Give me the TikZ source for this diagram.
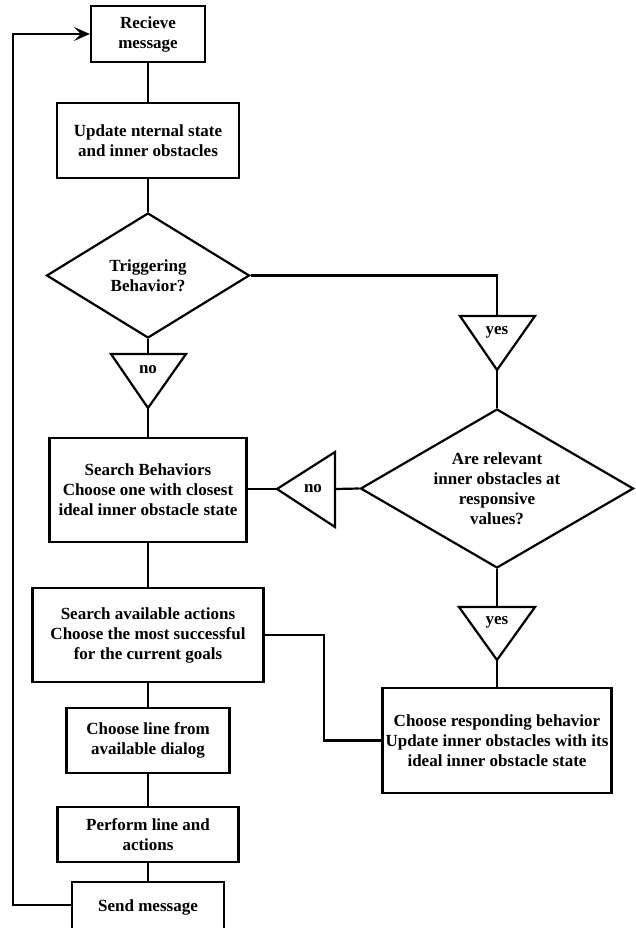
\documentclass[tikz,border=0pt]{standalone}
\usepackage{fontspec}
\setmainfont{Liberation Serif}
\usetikzlibrary{shapes.geometric,arrows.meta}
\tikzset{
  box/.style={draw, line width=2.2pt, rectangle, inner sep=0pt, align=center,
    font=\bfseries\fontsize{17}{20}\selectfont},
  dia/.style={draw, line width=2.2pt, diamond, inner sep=0pt, align=center,
    font=\bfseries\fontsize{17}{20}\selectfont},
  lbl/.style={inner sep=0pt, font=\bfseries\fontsize{17}{20}\selectfont},
  tri/.style={draw, line width=2.2pt, line join=miter},
  conn/.style={draw, line width=2.2pt},
}
\begin{document}
\begin{tikzpicture}[x=1pt,y=-1pt]
\useasboundingbox[fill=white] (0,0) rectangle (636,928);
% boxes
\node[box, minimum width=114, minimum height=56] (recv) at (148,34) {Recieve\\message};
\node[box, minimum width=182, minimum height=75] (upd) at (148,140.5) {Update nternal state\\and inner obstacles};
\node[dia, aspect=1.62, minimum width=203, minimum height=125] (trig) at (148,275.5) {Triggering\\Behavior?};
\node[dia, aspect=1.72, minimum width=273, minimum height=159] (rel) at (497,488.5) {Are relevant\\inner obstacles at\\responsive\\values?};
\node[box, minimum width=197, minimum height=104] (sb) at (148,490) {Search Behaviors\\Choose one with closest\\ideal inner obstacle state};
\node[box, minimum width=231, minimum height=94] (sa) at (148,635) {Search available actions\\Choose the most successful\\for the current goals};
\node[box, minimum width=163, minimum height=65] (cl) at (148,740.5) {Choose line from\\available dialog};
\node[box, minimum width=181, minimum height=55] (pf) at (148,834.5) {Perform line and\\actions};
\node[box, minimum width=152, minimum height=50] (send) at (148,907) {Send message};
\node[box, minimum width=229, minimum height=105] (rb) at (497,740.5) {Choose responding behavior\\Update inner obstacles with its\\ideal inner obstacle state};
% triangles
\coordinate (noAtop) at (148,354);
\coordinate (noAtip) at (148,408);
\draw[tri] (111,354) -- (186,354) -- (noAtip) -- cycle;
\node[lbl] (noA) at (148,370) {no};
\coordinate (yesAtop) at (497,316);
\coordinate (yesAtip) at (497,370);
\draw[tri] (460,316) -- (535,316) -- (yesAtip) -- cycle;
\node[lbl] (yesA) at (497,332) {yes};
\coordinate (noBbase) at (335,489);
\coordinate (noBtip) at (277,489);
\draw[tri] (335,452) -- (335,527) -- (noBtip) -- cycle;
\node[lbl] (noB) at (313,489) {no};
\coordinate (yesBtop) at (497,607);
\coordinate (yesBtip) at (497,660);
\draw[tri] (459,607) -- (535,607) -- (yesBtip) -- cycle;
\node[lbl] (yesB) at (497,622) {yes};
% connectors
\draw[conn] (recv.south) -- (upd.north);
\draw[conn] (upd.south) -- (trig.north);
\draw[conn] (trig.south) -- (noAtop);
\draw[conn] (noAtip) -- (sb.north);
\draw[conn] (trig.east) -| (yesAtop);
\draw[conn] (yesAtip) -- (rel.north);
\draw[conn] (rel.west) -- (noBbase);
\draw[conn] (noBtip) -- (sb.east |- noBtip);
\draw[conn] (rel.south) -- (yesBtop);
\draw[conn] (yesBtip) -- (rb.north);
\draw[conn] (sb.south) -- (sa.north);
\draw[conn] (sa.east) -- ++(59,0) |- (rb.west);
\draw[conn] (sa.south) -- (cl.north);
\draw[conn] (cl.south) -- (pf.north);
\draw[conn] (pf.south) -- (send.north);
\coordinate (lp) at (13,905);
\draw[conn, -{Stealth[length=16pt,width=14pt,inset=7pt]}] (send.west |- lp) -- (lp) |- (recv.west);
\end{tikzpicture}
\end{document}
